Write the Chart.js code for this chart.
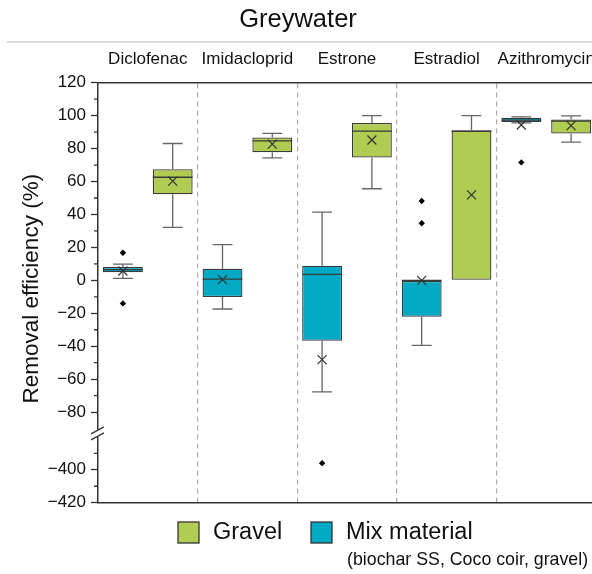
<!DOCTYPE html>
<html><head><meta charset="utf-8">
<script src="https://cdn.jsdelivr.net/npm/chart.js@4.4.1/dist/chart.umd.min.js"></script>
<style>
html,body{margin:0;padding:0;background:#fff;overflow:hidden;}
#wrap{width:592px;height:574px;overflow:hidden;position:relative;}
canvas{display:block;}
</style></head><body>
<div id="wrap"><canvas id="c" width="604" height="574"></canvas></div>
<script>
const categories = ['Diclofenac', 'Imidacloprid', 'Estrone', 'Estradiol', 'Azithromycin'];

const mixMin      = [1.2, -17.4, -67.7, -39.5, 95.6];
const mixQ1       = [4.9, -10.1, -36.7, -22.1, 96.1];
const mixMedian   = [6.5, 0.8, 3.6, 0, 97.3];
const mixQ3       = [8.1, 7.1, 8.9, 0, 98.7];
const mixMax      = [9.9, 21.7, 41.4, 0, 99.2];
const mixMean     = [5.7, 0.4, -48.1, 0, 94.3];
const mixOutliers = [[16.8, -14.0], [], [-396], [48.2, 34.7], [71.6]];

const gravelMin      = [32.2, 74.4, 55.6, 0, 83.9];
const gravelQ1       = [52.3, 77.7, 74.6, 0, 89.2];
const gravelMedian   = [62.6, 84.7, 90.6, 90.4, 96.7];
const gravelQ3       = [67.5, 86.8, 95.5, 91.2, 97.7];
const gravelMax      = [83.1, 89.2, 100, 100, 99.9];
const gravelMean     = [60.2, 82.7, 85.2, 51.9, 93.9];
const gravelOutliers = [[], [], [], [], []];

const upperTicks = [-80, -60, -40, -20, 0, 20, 40, 60, 80, 100, 120];
const lowerTicks = [-420, -400];
const upperMinor = [-70, -50, -30, -10, 10, 30, 50, 70, 90, 110];
const lowerMinor = [-410, -390];

const FONT = "'Liberation Sans', Arial, sans-serif";
const GRAVEL = '#b1cc53';
const MIX = '#00aac4';
const UPPER_MIN = -92, UPPER_MAX = 120, LOWER_MIN = -420, LOWER_MAX = -377;

const series = [
  {label: 'Mix material', color: MIX, min: mixMin, q1: mixQ1, med: mixMedian, q3: mixQ3, max: mixMax, mean: mixMean, out: mixOutliers},
  {label: 'Gravel', color: GRAVEL, min: gravelMin, q1: gravelQ1, med: gravelMedian, q3: gravelQ3, max: gravelMax, mean: gravelMean, out: gravelOutliers}
];

const fmt = v => v < 0 ? '\u2212' + Math.abs(v) : String(v);

function yPix(chart, v) {
  if (v >= UPPER_MIN) return chart.scales.y.getPixelForValue(v);
  return chart.scales.yb.getPixelForValue(v);
}

const boxPlugin = {
  id: 'boxParts',
  afterDatasetsDraw(chart) {
    const ctx = chart.ctx;
    ctx.save();
    series.forEach((s, di) => {
      const meta = chart.getDatasetMeta(di);
      meta.data.forEach((bar, i) => {
        const x = bar.x, w = bar.width, cap = w / 2;
        const yq1 = yPix(chart, s.q1[i]), yq3 = yPix(chart, s.q3[i]);
        ctx.strokeStyle = '#666';
        ctx.lineWidth = 1.3;
        ctx.beginPath();
        if (s.max[i] > s.q3[i]) {
          const ym = yPix(chart, s.max[i]);
          ctx.moveTo(x, yq3); ctx.lineTo(x, ym);
          ctx.moveTo(x - cap / 2, ym); ctx.lineTo(x + cap / 2, ym);
        }
        if (s.min[i] < s.q1[i]) {
          const yn = yPix(chart, s.min[i]);
          ctx.moveTo(x, yq1); ctx.lineTo(x, yn);
          ctx.moveTo(x - cap / 2, yn); ctx.lineTo(x + cap / 2, yn);
        }
        ctx.stroke();
        // median
        const ymed = yPix(chart, s.med[i]);
        ctx.strokeStyle = '#3a3a3a';
        ctx.lineWidth = 1.3;
        ctx.beginPath();
        ctx.moveTo(x - w / 2, ymed); ctx.lineTo(x + w / 2, ymed);
        ctx.stroke();
        // mean cross
        const ymean = yPix(chart, s.mean[i]);
        const r = 4.5;
        ctx.strokeStyle = '#333';
        ctx.lineWidth = 1.2;
        ctx.beginPath();
        ctx.moveTo(x - r, ymean - r); ctx.lineTo(x + r, ymean + r);
        ctx.moveTo(x - r, ymean + r); ctx.lineTo(x + r, ymean - r);
        ctx.stroke();
        // outliers
        ctx.fillStyle = '#000';
        s.out[i].forEach(v => {
          const yo = yPix(chart, v);
          const d = 3.2;
          ctx.beginPath();
          ctx.moveTo(x, yo - d); ctx.lineTo(x + d, yo); ctx.lineTo(x, yo + d); ctx.lineTo(x - d, yo);
          ctx.closePath();
          ctx.fill();
        });
      });
    });
    ctx.restore();
  },
  afterDraw(chart) {
    const ctx = chart.ctx;
    const ya = chart.scales.y, yb = chart.scales.yb;
    const ax = chart.chartArea.left;
    ctx.save();
    // grey rule under title
    ctx.strokeStyle = '#d2d2d2';
    ctx.lineWidth = 1.5;
    ctx.beginPath(); ctx.moveTo(7, 42); ctx.lineTo(chart.width, 42); ctx.stroke();
    // minor ticks
    ctx.strokeStyle = '#333';
    ctx.lineWidth = 1.3;
    ctx.beginPath();
    upperMinor.forEach(v => { const p = ya.getPixelForValue(v); ctx.moveTo(ax - 4, p); ctx.lineTo(ax, p); });
    lowerMinor.forEach(v => { const p = yb.getPixelForValue(v); ctx.moveTo(ax - 4, p); ctx.lineTo(ax, p); });
    ctx.stroke();
    // axis break
    const by = ya.bottom;
    ctx.fillStyle = '#fff';
    ctx.fillRect(ax - 2, by - 2, 4, 7);
    ctx.strokeStyle = '#333';
    ctx.lineWidth = 1.3;
    ctx.beginPath();
    ctx.moveTo(ax - 7, by + 2); ctx.lineTo(ax + 6, by - 5);
    ctx.moveTo(ax - 7, by + 8); ctx.lineTo(ax + 6, by + 1);
    ctx.stroke();
    // y title
    ctx.fillStyle = '#111';
    ctx.font = '22.5px ' + FONT;
    ctx.textAlign = 'center';
    ctx.textBaseline = 'middle';
    ctx.translate(32, (ya.top + yb.bottom) / 2 - 4);
    ctx.rotate(-Math.PI / 2);
    ctx.fillText('Removal efficiency (%)', 0, 0);
    ctx.restore();
    // legend
    ctx.save();
    const legendItems = [
      {label: 'Gravel', color: GRAVEL, x: 178},
      {label: 'Mix material', color: MIX, x: 311}
    ];
    legendItems.forEach(it => {
      ctx.fillStyle = it.color;
      ctx.fillRect(it.x, 522, 21, 21);
      ctx.strokeStyle = '#333';
      ctx.lineWidth = 1.3;
      ctx.strokeRect(it.x, 522, 21, 21);
      ctx.fillStyle = '#111';
      ctx.font = '23.5px ' + FONT;
      ctx.textAlign = 'left';
      ctx.textBaseline = 'middle';
      ctx.fillText(it.label, it.x + 35, 533);
    });
    ctx.font = '17.8px ' + FONT;
    ctx.fillText('(biochar SS, Coco coir, gravel)', 347, 560);
    ctx.restore();
  }
};

const datasets = series.map(s => ({
  label: s.label,
  data: s.q1.map((q, i) => [q, s.q3[i]]),
  backgroundColor: s.color,
  borderColor: '#3a3a3a',
  borderWidth: 1.3,
  borderSkipped: false,
  xAxisID: 'x',
  yAxisID: 'y',
  categoryPercentage: 1.0,
  barPercentage: 0.8
}));

const yTickFont = {family: FONT, size: 17};

new Chart(document.getElementById('c'), {
  type: 'bar',
  data: {labels: categories, datasets},
  options: {
    responsive: false,
    animation: false,
    devicePixelRatio: 1,
    layout: {padding: {left: 0, right: 8, top: 0, bottom: 71.3}},
    plugins: {
      legend: {display: false},
      tooltip: {enabled: false},
      title: {display: true, text: 'Greywater', color: '#111', font: {family: FONT, size: 25.5, weight: 'normal'}, padding: {top: 5, bottom: 7.1}}
    },
    scales: {
      x: {
        type: 'category', position: 'top', offset: true,
        afterFit: s => { s.height = 40; s.paddingLeft = 0; s.paddingRight = 0; },
        ticks: {color: '#111', font: {family: FONT, size: 17}, padding: 13, maxRotation: 0, autoSkip: false},
        grid: {display: true, drawTicks: false, offset: true, lineWidth: 1.2,
               color: c => c.index === 0 ? 'rgba(0,0,0,0)' : '#ababab'},
        border: {display: true, color: '#333', width: 1.5, dash: [5, 4]}
      },
      xb: {
        type: 'category', position: 'bottom', offset: true,
        afterFit: s => { s.height = 0; s.paddingLeft = 0; s.paddingRight = 0; },
        ticks: {display: false},
        grid: {display: false, drawTicks: false},
        border: {display: true, color: '#333', width: 1.5}
      },
      y: {
        type: 'linear', position: 'left', stack: 'v', stackWeight: UPPER_MAX - UPPER_MIN, weight: 2,
        min: UPPER_MIN, max: UPPER_MAX,
        afterBuildTicks: s => { s.ticks = upperTicks.map(v => ({value: v})); },
        afterFit: s => { s.width = 98; },
        ticks: {color: '#111', font: yTickFont, padding: 5, autoSkip: false, callback: v => fmt(v)},
        grid: {display: true, drawOnChartArea: false, drawTicks: true, tickLength: 7, tickColor: '#333', tickWidth: 1.3},
        border: {display: true, color: '#333', width: 1.5}
      },
      yb: {
        type: 'linear', position: 'left', stack: 'v', stackWeight: LOWER_MAX - LOWER_MIN, weight: 1,
        min: LOWER_MIN, max: LOWER_MAX,
        afterBuildTicks: s => { s.ticks = lowerTicks.map(v => ({value: v})); },
        afterFit: s => { s.width = 98; },
        ticks: {color: '#111', font: yTickFont, padding: 5, autoSkip: false, callback: v => fmt(v)},
        grid: {display: true, drawOnChartArea: false, drawTicks: true, tickLength: 7, tickColor: '#333', tickWidth: 1.3},
        border: {display: true, color: '#333', width: 1.5}
      }
    }
  },
  plugins: [boxPlugin]
});
</script>
</body></html>
